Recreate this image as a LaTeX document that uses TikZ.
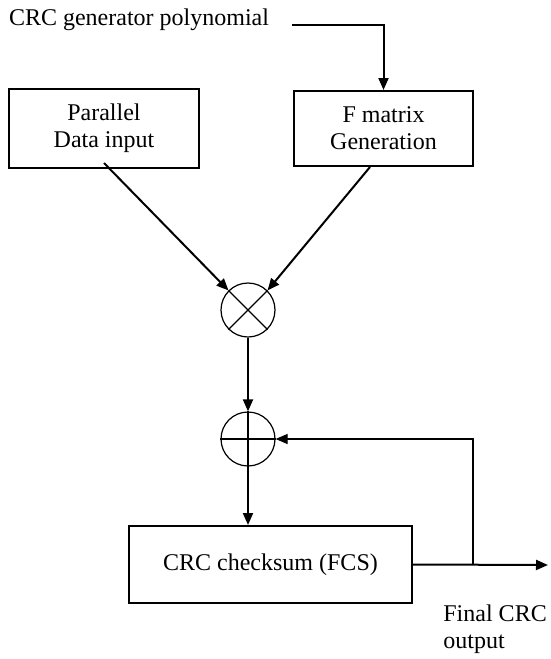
\documentclass[tikz,border=0pt]{standalone}
\usepackage{fontspec}
\setmainfont{Liberation Serif}
\usetikzlibrary{arrows.meta}

\tikzset{
  blk/.style={draw, line width=1pt, minimum width=#1, align=center, inner sep=2pt},
  blk/.default=90pt,
  opnode/.style={draw, circle, line width=0.6pt, minimum size=27pt, inner sep=0pt},
  flow/.style={line width=1pt, -{Triangle[length=6pt,width=5pt]}},
}

\begin{document}
\fontsize{12}{13.5}\selectfont
\begin{tikzpicture}[x=0.5pt, y=-0.5pt]
\useasboundingbox (0,0) rectangle (551,659);
\node (poly) at (139, 20) {CRC generator polynomial}; % input label
\coordinate (polyend) at (292, 25);
\node[blk=95pt, minimum height=39.5pt] (par) at (104, 128.5) {Parallel\\Data input}; % data in
\node[blk=89.5pt, minimum height=37.5pt] (fmat) at (383.5, 128.5) {F matrix\\Generation}; % F matrix
\node[opnode] (mul) at (248, 310) {}; % multiplier
\draw[line width=0.6pt] (mul.north west) -- (mul.south east) (mul.north east) -- (mul.south west);
\node[opnode] (sum) at (248, 439) {}; % adder
\draw[line width=1pt] (sum.north) -- (sum.south) (sum.west) -- (sum.east);
\node[blk=141.5pt, minimum height=38.5pt] (crc) at (270.5, 564.5) {CRC checksum (FCS)}; % checksum
\coordinate (tap) at (473, 565);
\coordinate (out) at (548, 565);
\node[anchor=north west, align=left, inner sep=0pt] (outlbl) at (443, 604) {Final CRC\\output}; % output label

\draw[flow] (polyend) -| (fmat.north);
\draw[flow] ([yshift=3pt]par.south) -- (mul.north west);
\draw[flow] ([xshift=-6.75pt]fmat.south) -- (mul.north east);
\draw[flow] (mul.south) -- (sum.north);
\draw[flow] (sum.south) -- (sum.south |- crc.north);
\draw[flow] (crc.east) -- (out);
\draw[line width=0.6pt, -{Triangle[length=6pt,width=5pt]}] (tap) |- (sum.east);
\end{tikzpicture}
\end{document}
